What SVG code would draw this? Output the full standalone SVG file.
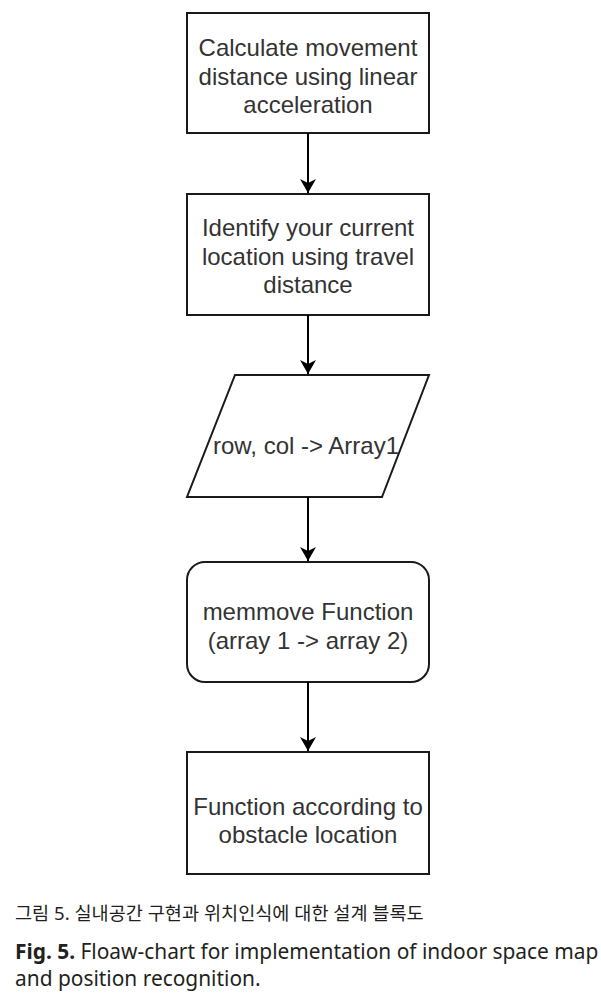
<svg xmlns="http://www.w3.org/2000/svg" width="601" height="995" viewBox="0 0 601 995">
<style>
.shape{fill:#fff;stroke:#1a1a1a;stroke-width:2}
.lbl{font-family:"Liberation Sans",Arial,sans-serif;font-size:24px;fill:#333;text-anchor:middle}
.conn{stroke:#000;stroke-width:2;fill:none}
.cap{font-family:"Noto Sans","Noto Sans CJK KR",sans-serif;fill:#231f20}
</style>
<defs>
<marker id="ah" markerWidth="16" markerHeight="16" refX="14" refY="8" orient="auto" markerUnits="userSpaceOnUse">
<path d="M0,0 L14,8 L0,16 L4,8 Z" fill="#000"/>
</marker>
</defs>
<rect width="601" height="995" fill="#fff"/>
<g id="n1">
<rect class="shape" x="187" y="13" width="242" height="120"/>
<text class="lbl" x="308" y="56">Calculate movement</text>
<text class="lbl" x="308" y="85">distance using linear</text>
<text class="lbl" x="308" y="113">acceleration</text>
</g>
<g id="n2">
<rect class="shape" x="187" y="194" width="242" height="121"/>
<text class="lbl" x="308" y="236">Identify your current</text>
<text class="lbl" x="308" y="265">location using travel</text>
<text class="lbl" x="308" y="293">distance</text>
</g>
<g id="n3">
<polygon class="shape" points="235,375 429,375 382,497 187,497"/>
<text class="lbl" x="306" y="454">row, col -&gt; Array1</text>
</g>
<g id="n4">
<rect class="shape" x="187" y="562" width="242" height="120" rx="18" ry="18"/>
<text class="lbl" x="308" y="620">memmove Function</text>
<text class="lbl" x="308" y="649">(array 1 -&gt; array 2)</text>
</g>
<g id="n5">
<rect class="shape" x="187" y="752" width="242" height="122"/>
<text class="lbl" x="308" y="815">Function according to</text>
<text class="lbl" x="308" y="843">obstacle location</text>
</g>
<g id="connectors">
<line class="conn" x1="308" y1="133" x2="308" y2="193" marker-end="url(#ah)"/>
<line class="conn" x1="308" y1="315" x2="308" y2="374" marker-end="url(#ah)"/>
<line class="conn" x1="308" y1="497" x2="308" y2="561" marker-end="url(#ah)"/>
<line class="conn" x1="308" y1="682" x2="308" y2="751" marker-end="url(#ah)"/>
</g>
<g id="caption">
<text class="cap" x="15" y="920" font-size="18.6">그림 5. 실내공간 구현과 위치인식에 대한 설계 블록도</text>
<text class="cap" x="15" y="959" font-size="20.9"><tspan font-weight="bold">Fig. 5.</tspan> Floaw-chart for implementation of indoor space map</text>
<text class="cap" x="15" y="986" font-size="20.9">and position recognition.</text>
</g>
</svg>
